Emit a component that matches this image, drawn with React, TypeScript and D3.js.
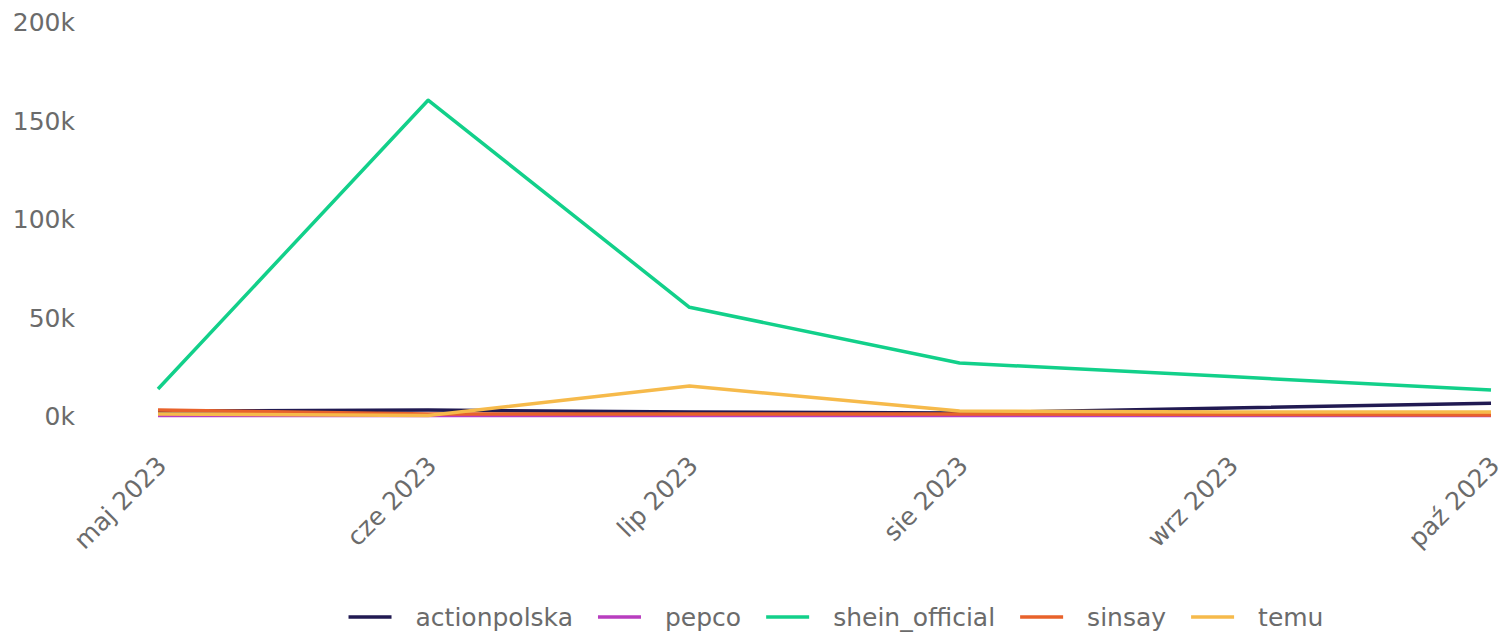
import { useEffect, useRef } from 'react';
import * as d3 from 'd3';

const months = ['2023-05-01', '2023-06-01', '2023-07-01', '2023-08-01', '2023-09-01', '2023-10-01'];
const monthLabels = ['maj 2023', 'cze 2023', 'lip 2023', 'sie 2023', 'wrz 2023', 'paź 2023'];
const seriesNames = ['actionpolska', 'pepco', 'shein_official', 'sinsay', 'temu'];
const seriesColors = ['#211a52', '#b83dbf', '#12d08a', '#e8622b', '#f6ba4b'];
const actionpolska = [2500, 3000, 2000, 1500, 4000, 6500];
const pepco = [300, 300, 300, 300, 300, 300];
const shein_official = [13700, 160300, 55200, 26900, 20000, 13200];
const sinsay = [3000, 1000, 1000, 1000, 800, 500];
const temu = [1000, 200, 15200, 2500, 2000, 2000];
const yTicks = [0, 50000, 100000, 150000, 200000];

const W = 1504, H = 632;

export default function App() {
  const ref = useRef<SVGSVGElement>(null);

  useEffect(() => {
    const svg = d3.select(ref.current);
    svg.selectAll('*').remove();
    const values = [actionpolska, pepco, shein_official, sinsay, temu];
    const dates = months.map(m => new Date(m + 'T00:00:00Z'));
    const font = 'DejaVu Sans, sans-serif';
    const grey = '#6b6b6b';
    const fs = 25;

    const x = d3.scaleUtc().domain([dates[0], dates[dates.length - 1]]).range([158, 1491]);
    const y = d3.scaleLinear().domain([0, 200000]).range([416, 22]);

    // y labels
    svg.append('g')
      .selectAll('text')
      .data(yTicks)
      .join('text')
      .attr('x', 75)
      .attr('y', d => y(d))
      .attr('dy', '0.36em')
      .attr('text-anchor', 'end')
      .attr('font-family', font)
      .attr('font-size', fs)
      .attr('fill', grey)
      .text(d => `${d / 1000}k`);

    // x labels
    svg.append('g')
      .selectAll('text')
      .data(dates)
      .join('text')
      .attr('transform', d => `translate(${x(d) + 10},${467}) rotate(-45)`)
      .attr('text-anchor', 'end')
      .attr('font-family', font)
      .attr('font-size', fs)
      .attr('fill', grey)
      .text((_, i) => monthLabels[i]);

    const line = d3.line<number>()
      .x((_, i) => x(dates[i]))
      .y(d => y(d));

    svg.append('g')
      .selectAll('path')
      .data(values)
      .join('path')
      .attr('d', d => line(d))
      .attr('fill', 'none')
      .attr('stroke', (_, i) => seriesColors[i])
      .attr('stroke-width', 3.5)
      .attr('stroke-linejoin', 'round');

    // legend
    const lg = svg.append('g');
    const items = seriesNames.map((name, i) => {
      const g = lg.append('g');
      g.append('line')
        .attr('x1', 0).attr('x2', 43).attr('y1', 0).attr('y2', 0)
        .attr('stroke', seriesColors[i]).attr('stroke-width', 3.5);
      const t = g.append('text')
        .attr('x', 67).attr('dy', '0.36em')
        .attr('font-family', font).attr('font-size', fs).attr('fill', grey)
        .text(name);
      const w = 67 + (t.node() as SVGTextElement).getComputedTextLength();
      return { g, w };
    });
    const gap = 25;
    const total = d3.sum(items, d => d.w) + gap * (items.length - 1);
    let cx = 836 - total / 2;
    items.forEach(it => {
      it.g.attr('transform', `translate(${cx},617)`);
      cx += it.w + gap;
    });
  }, []);

  return <svg ref={ref} width={W} height={H} style={{ display: 'block', position: 'absolute', left: 0, top: 0 }} />;
}
